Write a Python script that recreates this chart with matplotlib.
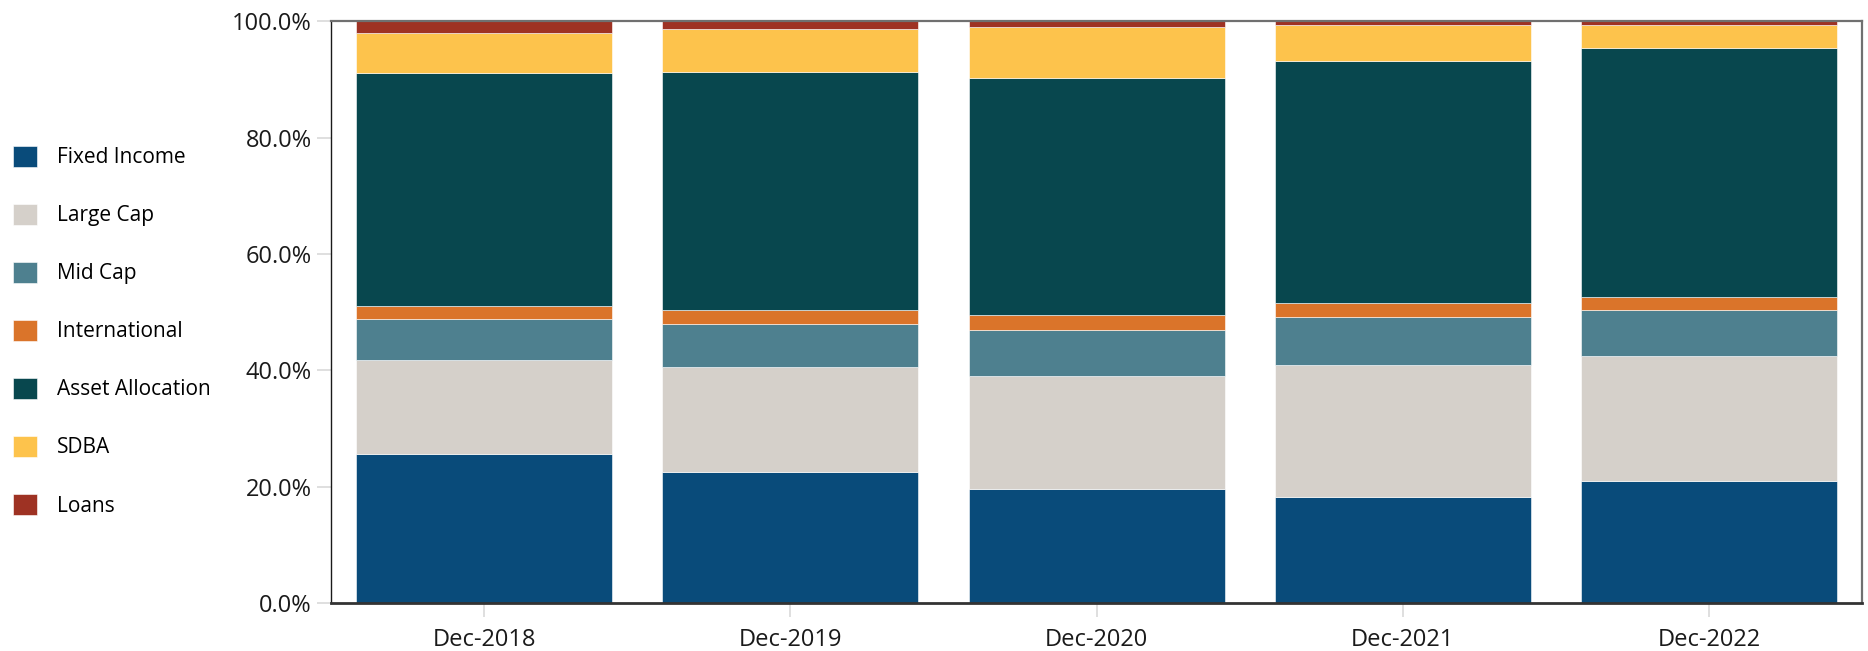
import numpy as np
import matplotlib.pyplot as plt
from matplotlib.ticker import FuncFormatter, MultipleLocator

plt.rcParams['font.family'] = ['Open Sans', 'DejaVu Sans']

periods = ['Dec-2018', 'Dec-2019', 'Dec-2020', 'Dec-2021', 'Dec-2022']

fixed_income = [25.7, 22.5, 19.6, 18.3, 21.0]
large_cap = [16.1, 18.0, 19.5, 22.6, 21.5]
mid_cap = [7.0, 7.5, 7.9, 8.3, 7.9]
international = [2.3, 2.3, 2.5, 2.3, 2.2]
asset_allocation = [40.0, 40.9, 40.8, 41.6, 42.7]
sdba = [6.9, 7.4, 8.7, 6.2, 4.0]
loans = [2.0, 1.4, 1.0, 0.7, 0.7]

series = [
    ('Fixed Income', fixed_income, '#094b7a'),
    ('Large Cap', large_cap, '#d5d0ca'),
    ('Mid Cap', mid_cap, '#4e808f'),
    ('International', international, '#da742a'),
    ('Asset Allocation', asset_allocation, '#08474e'),
    ('SDBA', sdba, '#fdc34c'),
    ('Loans', loans, '#9e3223'),
]

fig = plt.figure(figsize=(18.68, 6.51), dpi=100)
ax = fig.add_axes([0.1772, 0.0733, 0.8196, 0.8943])

x = np.arange(len(periods))
bottom = np.zeros(len(periods))
for name, vals, color in series:
    vals = np.array(vals)
    ax.bar(x, vals, width=0.836, bottom=bottom, color=color, label=name,
           edgecolor='#ffffff', linewidth=0.4)
    bottom += vals

ax.set_xlim(-0.5, len(periods) - 0.5)
ax.set_ylim(0, 100)
ax.yaxis.set_major_locator(MultipleLocator(20))
ax.yaxis.set_major_formatter(FuncFormatter(lambda v, p: f'{v:.1f}%'))
ax.set_xticks(x)
ax.set_xticklabels(periods)
ax.tick_params(axis='both', labelsize=17, colors='#d9d9d9', labelcolor='#1a1a1a',
               length=10, width=1.2)
ax.tick_params(axis='y', pad=4)
ax.tick_params(axis='x', pad=8)

ax.spines['left'].set_color('#1a1a1a')
ax.spines['left'].set_linewidth(1.0)
ax.spines['bottom'].set_color('#333333')
ax.spines['bottom'].set_linewidth(2.0)
ax.spines['top'].set_color('#707070')
ax.spines['top'].set_linewidth(1.6)
ax.spines['right'].set_color('#707070')
ax.spines['right'].set_linewidth(1.6)

fig.legend(loc='upper left', bbox_to_anchor=(0.007, 1 - 146 / 651),
           bbox_transform=fig.transFigure, frameon=False, fontsize=15,
           handlelength=1.15, handleheight=1.15, handletextpad=0.96,
           labelspacing=1.71, borderpad=0, borderaxespad=0)

fig.savefig('out.png', dpi=100)
